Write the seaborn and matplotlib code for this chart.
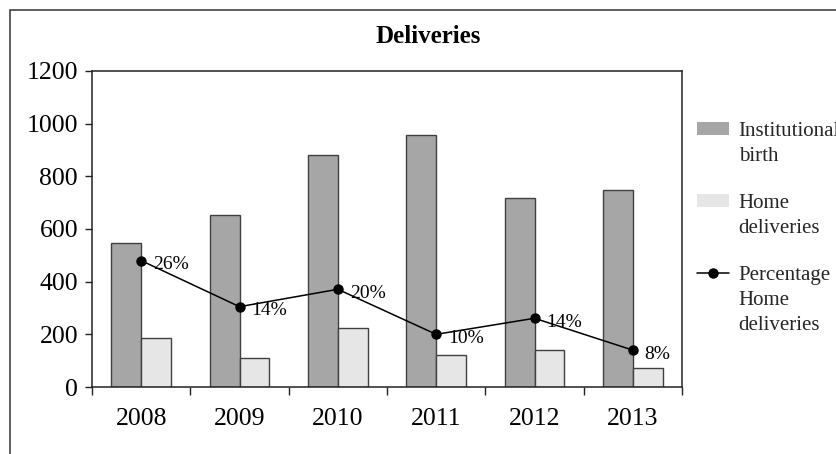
import numpy as np
import pandas as pd
import matplotlib
matplotlib.use('Agg')
import matplotlib.pyplot as plt
from matplotlib.patches import Patch, Rectangle
from matplotlib.lines import Line2D
import seaborn as sns

# values
years = ['2008', '2009', '2010', '2011', '2012', '2013']
institutional = [548, 653, 881, 957, 716, 749]
home = [185, 109, 223, 121, 139, 71]
pct_line = [480, 305, 371, 200, 261, 140]
pct_labels = ['26%', '14%', '20%', '10%', '14%', '8%']
y_ticks = [0, 200, 400, 600, 800, 1000, 1200]

bar_names = ['Institutional\nbirth', 'Home\ndeliveries']
line_name = 'Percentage\nHome\ndeliveries'
bar_colors = ['#a6a6a6', '#e6e6e6']

df = pd.DataFrame({
    'year': years * 2,
    'value': institutional + home,
    'type': [bar_names[0]] * len(years) + [bar_names[1]] * len(years),
})

sns.set_theme(style='white')
plt.rcParams['font.family'] = ['Liberation Serif', 'DejaVu Serif']

W, H = 836, 454
fig = plt.figure(figsize=(W / 100, H / 100), dpi=100)
ax = fig.add_axes([92 / W, 1 - 387 / H, 590 / W, 316 / H])

sns.barplot(data=df, x='year', y='value', hue='type', palette=bar_colors,
            width=0.61, saturation=1, edgecolor='#404040', linewidth=1,
            errorbar=None, legend=False, ax=ax)

xpos = np.arange(len(years))
ax.plot(xpos, pct_line, color='black', lw=1.1, marker='o', ms=6.5, zorder=3)
for x, y, lbl in zip(xpos, pct_line, pct_labels):
    ax.annotate(lbl, (x, y), xytext=(8.5, -3), textcoords='offset points',
                ha='left', va='center', fontsize=14, color='black')

ax.set_xlabel('')
ax.set_ylabel('')
ax.set_ylim(0, 1200)
ax.set_yticks(y_ticks)
ax.set_xlim(-0.5, len(years) - 0.5)
ax.set_xticks(xpos)
ax.set_xticklabels(years)
ax.set_xticks(np.arange(-0.5, len(years), 1), minor=True)

ax.tick_params(axis='y', which='major', left=True, length=5, width=1,
               direction='out', pad=5, labelsize=18.5, color='#222222',
               labelcolor='black')
ax.tick_params(axis='x', which='major', bottom=False, length=0, pad=15,
               labelsize=18.5, labelcolor='black')
ax.tick_params(axis='x', which='minor', bottom=True, length=6, width=1,
               direction='out', color='#222222')
for sp in ax.spines.values():
    sp.set_visible(True)
    sp.set_color('#222222')
    sp.set_linewidth(1.1)

fig.text(428.5 / W, 1 - 43.3 / H, 'Deliveries', ha='center', va='baseline',
         fontsize=18, fontweight='bold', color='black')

# outer frame of the chart
fig.patches.append(Rectangle((10 / W, -0.1), 1.2, 1.1 - 10 / H,
                             transform=fig.transFigure, fill=False,
                             edgecolor='#333333', lw=1.1))

handles = [Patch(facecolor=bar_colors[0], edgecolor='none'),
           Patch(facecolor=bar_colors[1], edgecolor='none'),
           Line2D([], [], color='black', lw=1.1, marker='o', ms=6.5)]
leg = fig.legend(handles, bar_names + [line_name], loc='upper left',
                 bbox_to_anchor=(697 / W, 1 - 122 / H), frameon=False,
                 borderpad=0, borderaxespad=0, handlelength=1.55,
                 handleheight=0.55, handletextpad=0.45, labelspacing=1.34,
                 fontsize=15)
for t in leg.get_texts():
    t.set_linespacing(1.44)
# handles next to the first line of each label
for col in leg._legend_handle_box.get_children():
    for row in col.get_children():
        row.align = 'top'

fig.savefig('out.png', dpi=100)
